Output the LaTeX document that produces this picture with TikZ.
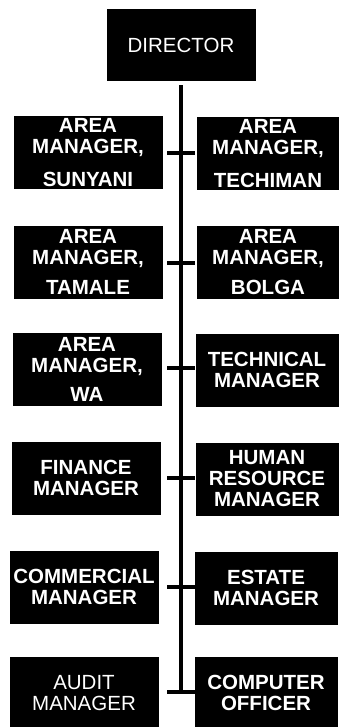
\documentclass[tikz,border=0pt]{standalone}
\usepackage{fontspec}
\setmainfont{Liberation Sans}
\usetikzlibrary{positioning}
\tikzset{
  post/.style={fill=black, text=white, align=center, inner sep=0pt,
    font=\fontsize{20.5}{21}\selectfont\bfseries, minimum height=73pt},
  lpost/.style={post, minimum width=149pt},
  rpost/.style={post, minimum width=143pt},
  bar/.style={line width=4pt},
}
\begin{document}
\begin{tikzpicture}[x=1pt,y=-1pt]
    \useasboundingbox (0,0) rectangle (339,727);
    \node[post, minimum width=149pt, minimum height=72pt] (dir) at (181,45) {\mdseries DIRECTOR};
    % left column
    \node[lpost] (sunyani) at (88,153) {AREA\\MANAGER,\\[12pt]SUNYANI};
    \node[lpost] (tamale) at (88,262) {AREA\\MANAGER,\\[9pt]TAMALE};
    \node[lpost] (wa) at (87,369) {AREA\\MANAGER,\\[8pt]WA};
    \node[lpost] (finance) at (86,478) {FINANCE\\MANAGER};
    \node[lpost] (commercial) at (84,587) {COMMERCIAL\\MANAGER};
    \node[lpost] (audit) at (84,693) {\mdseries AUDIT\\\mdseries MANAGER};
    % right column
    \node[rpost] (techiman) at (268,154) {AREA\\MANAGER,\\[12pt]TECHIMAN};
    \node[rpost] (bolga) at (268,262) {AREA\\MANAGER,\\[9pt]BOLGA};
    \node[rpost] (technical) at (267,370) {TECHNICAL\\MANAGER};
    \node[rpost] (hr) at (267,479) {HUMAN\\RESOURCE\\MANAGER};
    \node[rpost] (estate) at (266,588) {ESTATE\\MANAGER};
    \node[rpost] (computer) at (266,693) {COMPUTER\\OFFICER};
    % spine and cross bars
    \coordinate (spine) at (181,692);
    \draw[bar, shorten <=4pt] (dir.south) -- (spine);
    \foreach \y [count=\i] in {153,263,368,478,587,692} {
        \coordinate (bl\i) at (167,\y);
        \coordinate (br\i) at (195,\y);
        \draw[bar] (bl\i) -- (br\i);
    }
\end{tikzpicture}
\end{document}
